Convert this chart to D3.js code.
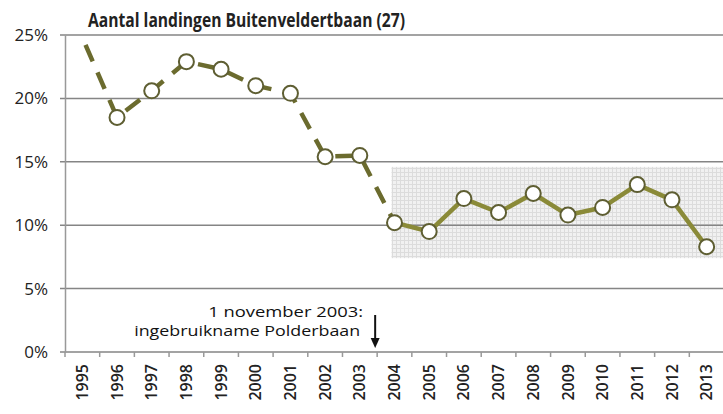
<!DOCTYPE html>
<html>
<head>
<meta charset="utf-8">
<script src="https://cdn.jsdelivr.net/npm/d3@7"></script>
<style>
  html, body { margin: 0; padding: 0; background: #fff; }
  svg { display: block; }
</style>
</head>
<body>
<div id="chart"></div>
<script>
// Share of landings on the Buitenveldertbaan (27), per year
const years = ['1995', '1996', '1997', '1998', '1999', '2000', '2001', '2002', '2003', '2004',
  '2005', '2006', '2007', '2008', '2009', '2010', '2011', '2012', '2013'];
const shares = [24.8, 18.5, 20.6, 22.9, 22.3, 21.0, 20.4, 15.4, 15.5, 10.2,
  9.5, 12.1, 11.0, 12.5, 10.8, 11.4, 13.2, 12.0, 8.3];
const yTicks = [0, 5, 10, 15, 20, 25];
const bandRange = [7.4, 14.6];        // grey shaded range after 2004
const dashedUntil = '2004';           // dashed line before the Polderbaan
const title = 'Aantal landingen Buitenveldertbaan (27)';
const noteLines = ['1 november 2003:', 'ingebruikname Polderbaan'];

const width = 723, height = 414;
const margin = { top: 35, right: -1, bottom: 62, left: 65 };
const font = '"Open Sans", sans-serif';

const svg = d3.select('#chart').append('svg')
  .attr('width', width)
  .attr('height', height);

const x = d3.scaleBand()
  .domain(years)
  .range([margin.left, width - margin.right]);

const y = d3.scaleLinear()
  .domain([0, 25])
  .range([height - margin.bottom, margin.top]);

const olive = '#8a8a38';
const oliveDark = '#6b6b2e';
const cx = d => x(d) + x.bandwidth() / 2;

// dotted grey area
const defs = svg.append('defs');
const pat = defs.append('pattern')
  .attr('id', 'grid')
  .attr('width', 4).attr('height', 4)
  .attr('patternUnits', 'userSpaceOnUse');
pat.append('rect').attr('width', 4).attr('height', 4).attr('fill', '#f1f1f1');
pat.append('path').attr('d', 'M0,0.5H4M0.5,0V4').attr('stroke', '#dcdcdc').attr('stroke-width', 1);

const bandX = cx('2004') - 3;
svg.append('rect')
  .attr('x', bandX)
  .attr('y', y(bandRange[1]))
  .attr('width', width - bandX)
  .attr('height', y(bandRange[0]) - y(bandRange[1]))
  .attr('fill', 'url(#grid)');

// gridlines
svg.append('g')
  .selectAll('line')
  .data(yTicks)
  .join('line')
  .attr('x1', margin.left - 5)
  .attr('x2', width)
  .attr('y1', d => y(d))
  .attr('y2', d => y(d))
  .attr('stroke', '#858585')
  .attr('stroke-width', 1.5);

// y axis
const yAxis = svg.append('g')
  .attr('transform', `translate(${margin.left},0)`)
  .call(d3.axisLeft(y).tickValues(yTicks).tickFormat(d => d + '%').tickSize(0).tickPadding(17));
yAxis.select('.domain').attr('stroke', '#999').attr('stroke-width', 1.5);
yAxis.selectAll('text')
  .attr('font-family', font)
  .attr('font-size', 17)
  .attr('fill', '#222');

// x axis
const xAxis = svg.append('g')
  .attr('transform', `translate(0,${y(0)})`)
  .call(d3.axisBottom(x).tickSize(0).tickPadding(0));
xAxis.select('.domain').remove();
xAxis.selectAll('text')
  .attr('font-family', font)
  .attr('font-size', 16)
  .attr('font-weight', 600)
  .attr('fill', '#222')
  .attr('text-anchor', 'end')
  .attr('dy', '0.35em')
  .attr('transform', 'translate(0,12) rotate(-90)');

// tick marks at band boundaries
svg.append('g')
  .selectAll('line')
  .data(years)
  .join('line')
  .attr('x1', d => x(d))
  .attr('x2', d => x(d))
  .attr('y1', y(0))
  .attr('y2', y(0) + 5)
  .attr('stroke', '#999')
  .attr('stroke-width', 1.5);

const pts = years.map((yr, i) => ({ yr, v: shares[i] }));
const splitIdx = years.indexOf(dashedUntil);

const line = d3.line()
  .x(d => cx(d.yr))
  .y(d => y(d.v));

// dashed part before 2004
svg.append('path')
  .datum(pts.slice(0, splitIdx + 1))
  .attr('d', line)
  .attr('fill', 'none')
  .attr('stroke', oliveDark)
  .attr('stroke-width', 4.5)
  .attr('stroke-dasharray', '18,12')
  .attr('stroke-dashoffset', -8);

// solid part from 2004
svg.append('path')
  .datum(pts.slice(splitIdx))
  .attr('d', line)
  .attr('fill', 'none')
  .attr('stroke', olive)
  .attr('stroke-width', 4.5)
  .attr('stroke-linejoin', 'round');

// markers (1995 has none in the original)
svg.append('g')
  .selectAll('circle')
  .data(pts.slice(1))
  .join('circle')
  .attr('cx', d => cx(d.yr))
  .attr('cy', d => y(d.v))
  .attr('r', 7.5)
  .attr('fill', '#fff')
  .attr('stroke', '#5e5e32')
  .attr('stroke-width', 2);

// annotation
const noteX = x('2004') - 2;
const noteLens = [155, 226];
noteLines.forEach((t, i) => {
  svg.append('text')
    .attr('x', noteX - 12 - i * 3)
    .attr('y', y(0) - 35 + i * 19)
    .attr('font-family', font)
    .attr('font-size', 14)
    .attr('fill', '#111')
    .attr('text-anchor', 'end')
    .attr('textLength', noteLens[i])
    .attr('lengthAdjust', 'spacingAndGlyphs')
    .text(t);
});

svg.append('line')
  .attr('x1', noteX).attr('x2', noteX)
  .attr('y1', y(0) - 37).attr('y2', y(0) - 12)
  .attr('stroke', '#111').attr('stroke-width', 2);
svg.append('path')
  .attr('d', `M${noteX - 4.5},${y(0) - 14}L${noteX + 4.5},${y(0) - 14}L${noteX},${y(0) - 4}Z`)
  .attr('fill', '#111');

// title
svg.append('text')
  .attr('x', 88)
  .attr('y', 27)
  .attr('font-family', font)
  .attr('font-size', 19)
  .attr('font-weight', 'bold')
  .attr('fill', '#222')
  .attr('textLength', 317)
  .attr('lengthAdjust', 'spacingAndGlyphs')
  .text(title);
</script>
</body>
</html>
